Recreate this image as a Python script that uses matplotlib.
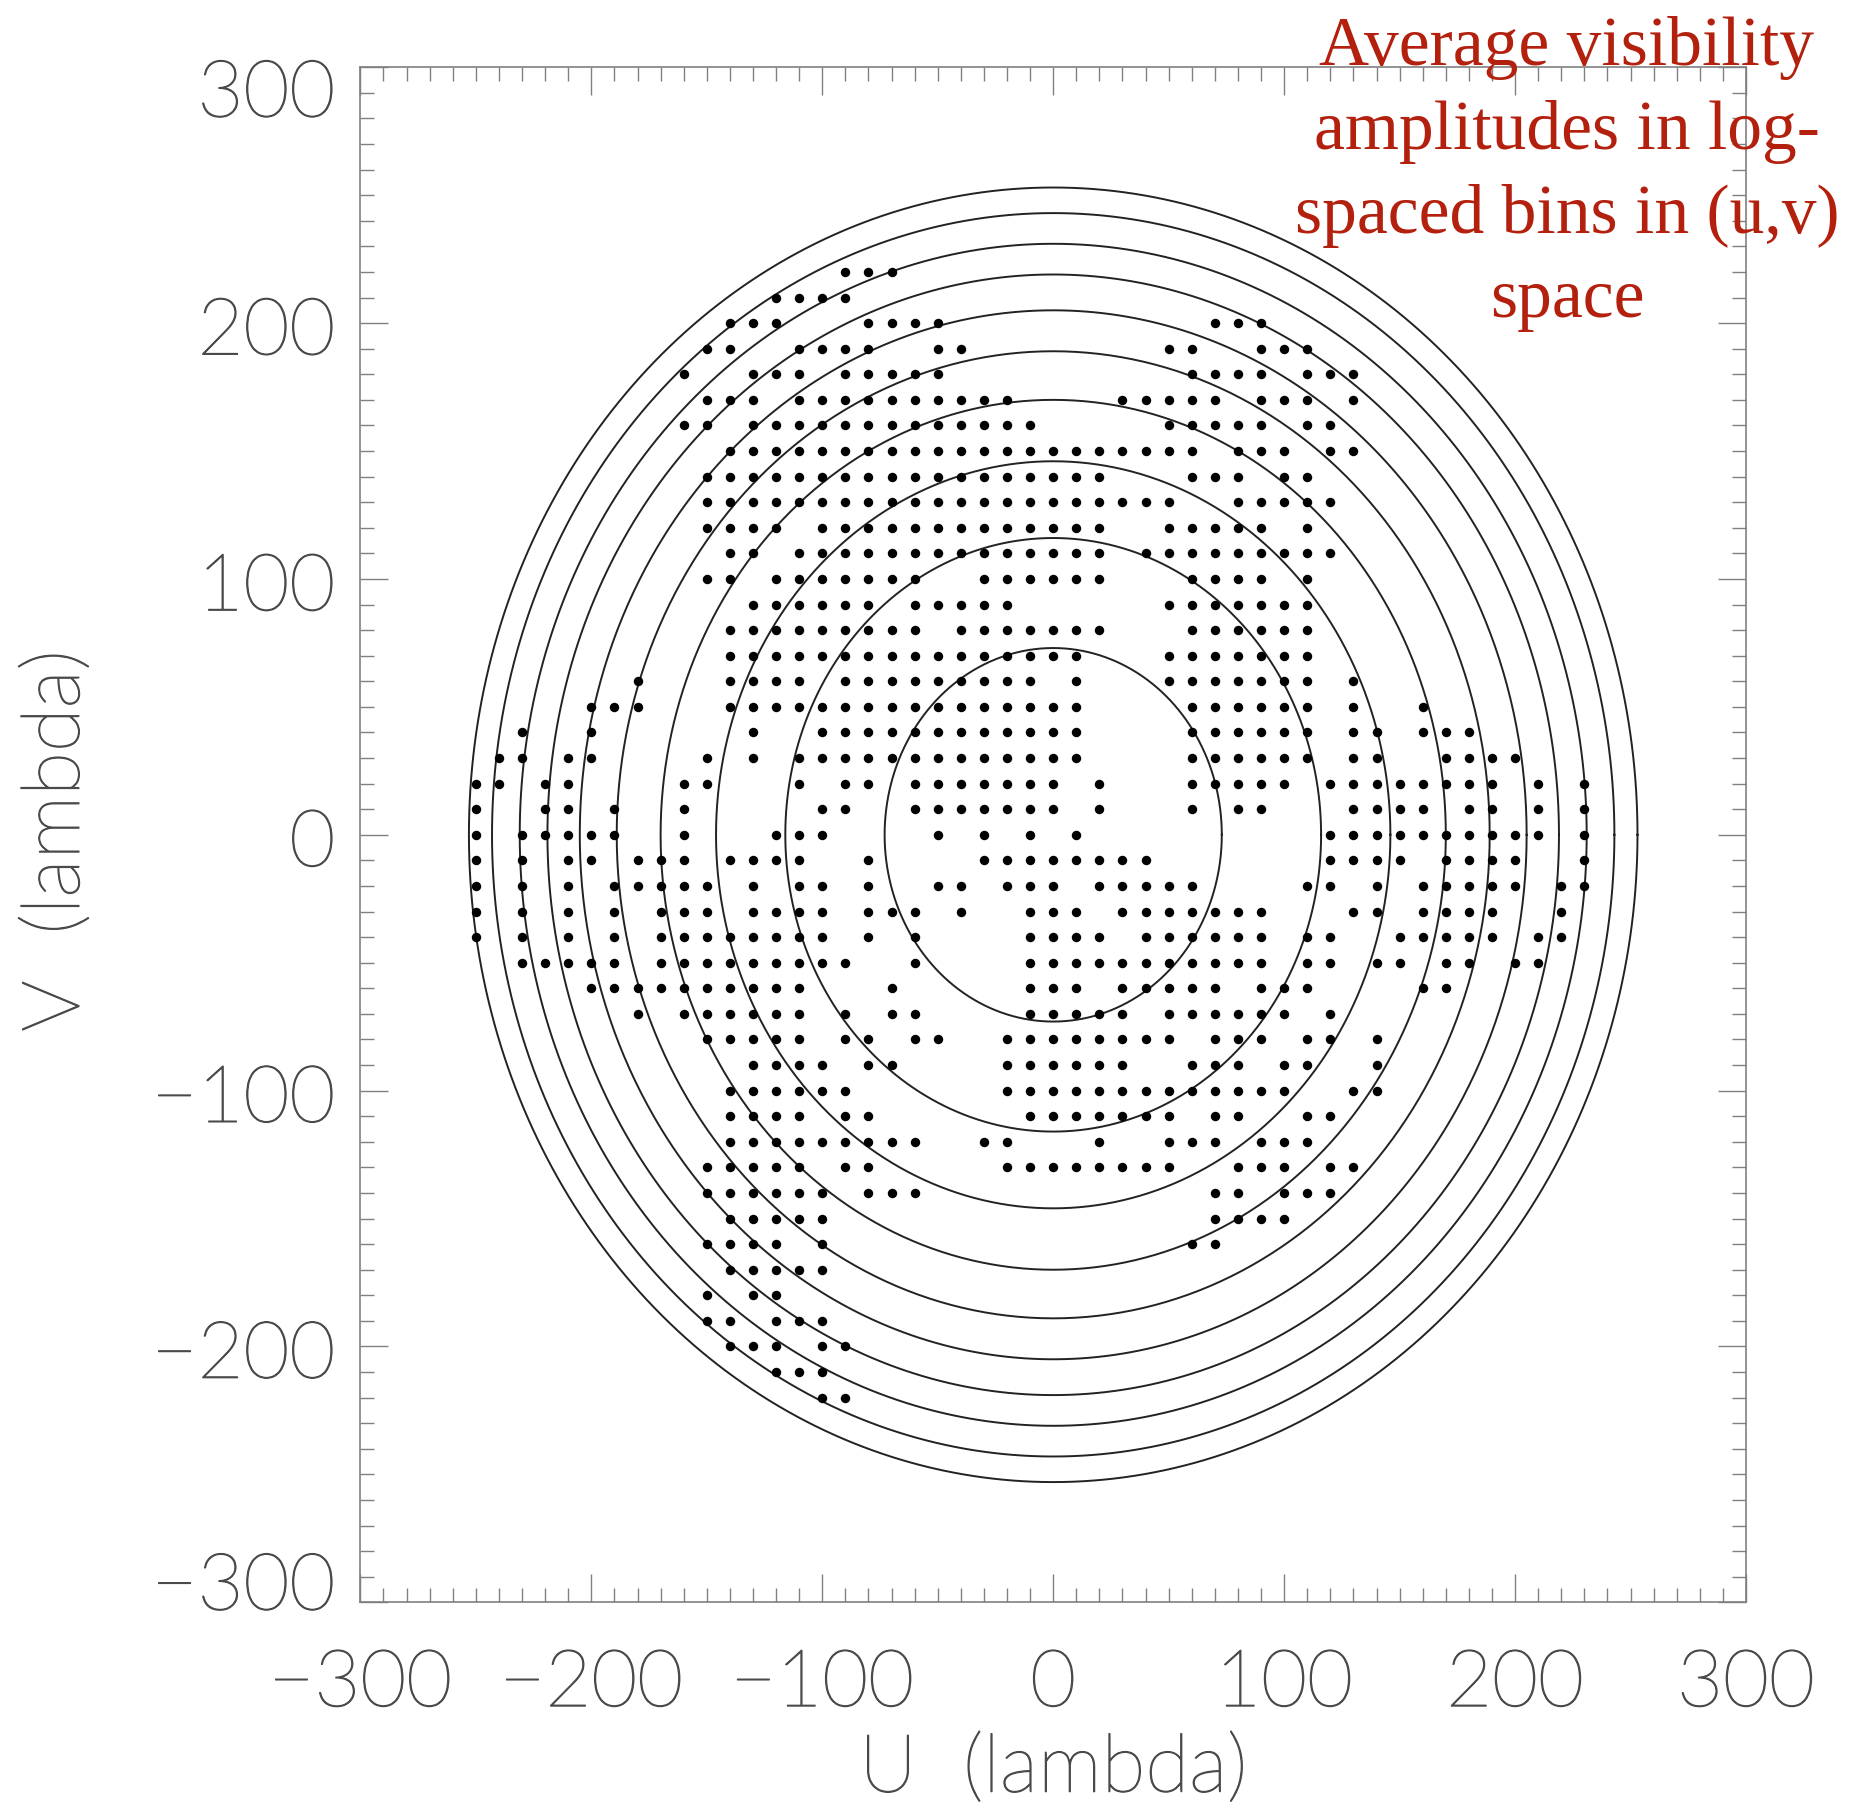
import numpy as np
import matplotlib
matplotlib.use('Agg')
import matplotlib.pyplot as plt
import matplotlib.patheffects as pe
from matplotlib.ticker import MultipleLocator
from matplotlib.transforms import ScaledTranslation

# radii of the log-spaced (u,v) bin boundaries (lambda)
ring_radii = [73, 116, 146, 170, 189, 205, 219, 231, 243, 253]

# grid rows of averaged visibility points: v value and the u values on that row
v_rows = [220, 210, 200, 190, 180, 170, 160, 150, 140, 130, 120, 110, 100, 90, 80,
          70, 60, 50, 40, 30, 20, 10, 0, -10, -20, -30, -40, -50, -60, -70,
          -80, -90, -100, -110, -120, -130, -140, -150, -160, -170, -180, -190, -200, -210, -220]

u_rows = [
    [-90, -80, -70],
    [-120, -110, -100, -90],
    [-140, -130, -120, -80, -70, -60, -50, 70, 80, 90],
    [-150, -140, -110, -100, -90, -80, -50, -40, 50, 60, 90, 100, 110],
    [-160, -130, -120, -110, -90, -80, -70, -60, -50, 60, 70, 80, 90, 110, 120, 130],
    [-150, -140, -130, -110, -100, -90, -80, -70, -60, -50, -40, -30, -20, 30, 40, 50, 60, 70,
     90, 100, 110, 130],
    [-160, -150, -130, -120, -110, -100, -90, -80, -70, -60, -50, -40, -30, -20, -10, 50, 60, 70,
     80, 90, 110, 120],
    [-140, -130, -120, -110, -100, -90, -80, -70, -60, -50, -40, -30, -20, -10, 0, 10, 20, 30, 40,
     50, 60, 80, 90, 100, 120, 130],
    [-150, -140, -130, -120, -110, -100, -90, -80, -70, -60, -50, -40, -30, -20, -10, 0, 10, 20,
     60, 70, 80, 100, 110],
    [-150, -140, -130, -120, -110, -100, -90, -80, -70, -60, -50, -40, -30, -20, -10, 0, 10, 20,
     30, 40, 50, 80, 90, 100, 110, 120],
    [-150, -140, -130, -120, -100, -90, -80, -70, -60, -50, -40, -30, -20, -10, 0, 10, 20,
     50, 60, 70, 80, 90, 110],
    [-140, -130, -110, -100, -90, -80, -70, -60, -50, -40, -30, -20, -10, 0, 10, 20,
     40, 50, 60, 70, 80, 90, 100, 110, 120],
    [-150, -140, -120, -110, -100, -90, -80, -70, -60, -30, -20, -10, 0, 10, 20, 60, 70,
     80, 90, 110],
    [-130, -120, -110, -100, -90, -80, -60, -50, -40, -30, -20, 50, 60, 70, 80, 90, 100, 110],
    [-140, -130, -120, -110, -100, -90, -80, -70, -60, -40, -30, -20, -10, 0, 10, 20, 60, 70,
     80, 90, 100, 110],
    [-140, -130, -120, -110, -100, -90, -80, -70, -60, -50, -40, -30, -20, -10, 0, 10,
     50, 60, 70, 80, 90, 100, 110],
    [-180, -140, -130, -120, -110, -90, -80, -70, -60, -50, -40, -30, -20, -10, 10,
     50, 60, 70, 80, 90, 100, 110, 130],
    [-200, -190, -180, -140, -130, -120, -110, -100, -90, -80, -70, -60, -50, -40, -30, -20, -10,
     0, 10, 60, 70, 80, 90, 100, 110, 130, 160],
    [-230, -200, -130, -100, -90, -80, -70, -60, -50, -40, -30, -20, -10, 0, 10, 60, 70,
     80, 90, 100, 110, 130, 140, 160, 170, 180],
    [-240, -230, -210, -200, -150, -130, -110, -100, -90, -80, -70, -60, -50, -40, -30, -20, -10,
     0, 10, 60, 70, 80, 90, 100, 110, 130, 140, 170, 180, 190, 200],
    [-250, -240, -220, -210, -160, -150, -110, -90, -80, -60, -50, -40, -30, -20, -10, 0, 20,
     60, 70, 80, 90, 100, 120, 130, 140, 150, 160, 170, 180, 190, 210, 230],
    [-250, -220, -210, -190, -160, -100, -90, -60, -50, -40, -30, -20, -10, 0, 20, 60,
     80, 90, 130, 140, 150, 160, 180, 190, 210, 230],
    [-250, -230, -220, -210, -200, -190, -160, -120, -110, -100, -50, -30, -10, 10,
     120, 130, 140, 150, 160, 170, 180, 190, 200, 210, 230],
    [-250, -230, -210, -200, -180, -170, -160, -140, -130, -120, -110, -80, -30, -20, -10, 0,
     10, 20, 30, 40, 120, 130, 140, 150, 170, 180, 190, 200, 230],
    [-250, -230, -210, -190, -180, -170, -160, -150, -130, -110, -100, -80, -50, -40, -20, -10,
     0, 20, 30, 40, 50, 60, 110, 120, 140, 160, 170, 180, 190, 200, 220, 230],
    [-250, -230, -210, -190, -170, -160, -150, -130, -120, -110, -100, -80, -70, -60, -40, -10,
     0, 10, 30, 40, 50, 60, 70, 80, 90, 130, 140, 160, 170, 180, 190, 220],
    [-250, -230, -210, -190, -170, -160, -150, -140, -130, -120, -110, -100, -80, -60, -10, 0,
     10, 20, 40, 50, 60, 70, 80, 90, 110, 120, 150, 160, 170, 180, 190, 210, 220],
    [-230, -220, -210, -200, -190, -170, -160, -150, -140, -130, -120, -110, -100, -90, -60, -10,
     0, 10, 20, 30, 40, 50, 60, 70, 80, 90, 110, 120, 140, 150, 170, 180, 200, 210],
    [-200, -190, -180, -170, -160, -150, -140, -130, -120, -110, -70, -10, 0, 10, 30, 40, 50,
     60, 70, 90, 100, 110, 160, 170],
    [-180, -160, -150, -140, -130, -120, -110, -90, -70, -60, -10, 0, 10, 20, 30, 50, 60, 70,
     80, 90, 100, 120],
    [-150, -140, -130, -120, -110, -90, -80, -60, -50, -20, -10, 0, 10, 20, 30, 40, 50, 70,
     80, 90, 110, 120, 140],
    [-130, -120, -110, -100, -80, -70, -20, -10, 0, 10, 20, 30, 60, 70, 80, 100, 110, 140],
    [-140, -130, -120, -110, -100, -90, -20, -10, 0, 10, 20, 30, 40, 50, 60, 70,
     80, 90, 100, 130, 140],
    [-140, -130, -120, -110, -90, -80, -10, 0, 10, 20, 30, 40, 50, 70, 80, 110, 120],
    [-140, -130, -120, -110, -100, -90, -80, -70, -60, -30, -20, 20, 50, 60, 70, 90, 100, 110],
    [-150, -140, -130, -120, -110, -90, -80, -20, -10, 0, 10, 20, 30, 40, 50,
     80, 90, 100, 120, 130],
    [-150, -140, -130, -120, -110, -100, -80, -70, -60, 70, 80, 100, 110, 120],
    [-140, -130, -120, -110, -100, 70, 80, 90, 100],
    [-150, -140, -130, -120, -100, 60, 70],
    [-140, -130, -120, -110, -100],
    [-150, -130, -120],
    [-150, -140, -120, -110, -100],
    [-140, -130, -120, -100, -90],
    [-120, -110, -100],
    [-100, -90],
]

u_pts = []
v_pts = []
for v, us in zip(v_rows, u_rows):
    for u in us:
        u_pts.append(u)
        v_pts.append(v)

label_font = dict(family=['Lato', 'DejaVu Sans'], weight='light')
label_grey = '#4a4a4a'
thicken = [pe.Stroke(linewidth=0.9, foreground=label_grey), pe.Normal()]

fig = plt.figure(figsize=(18.5, 18.13), dpi=100)
ax = fig.add_axes([0.1948, 0.1162, 0.749, 0.8467])

theta = np.linspace(0, 2 * np.pi, 721)
for r in ring_radii:
    ax.plot(r * np.cos(theta), r * np.sin(theta), color='#222222', lw=1.4)

ax.plot(u_pts, v_pts, 'o', color='black', ms=6.8, mew=0)

ax.set_xlim(-300, 300)
ax.set_ylim(-300, 300)
ax.xaxis.set_major_locator(MultipleLocator(100))
ax.yaxis.set_major_locator(MultipleLocator(100))
ax.xaxis.set_minor_locator(MultipleLocator(10))
ax.yaxis.set_minor_locator(MultipleLocator(10))

grey = '#808080'
for s in ax.spines.values():
    s.set_color(grey)
    s.set_linewidth(1.2)
ax.tick_params(which='both', direction='in', top=True, right=True, color=grey,
               width=1.0, labelcolor=label_grey, labelsize=57)
ax.tick_params(which='major', length=20)
ax.tick_params(which='minor', length=10)
ax.tick_params(axis='x', which='major', pad=34)
ax.tick_params(axis='y', which='major', pad=18)

# the end labels of the v axis sit inside the axis range, as in the original
fig.canvas.draw()
for t in ax.xaxis.get_major_ticks():
    t.label1.set_family(label_font['family'])
    t.label1.set_weight(label_font['weight'])
    t.label1.set_path_effects(thicken)
for t in ax.yaxis.get_major_ticks():
    t.label1.set_family(label_font['family'])
    t.label1.set_weight(label_font['weight'])
    t.label1.set_path_effects(thicken)
    if abs(t.get_loc() - 300) < 1e-6:
        dy = -21
    elif abs(t.get_loc() + 300) < 1e-6:
        dy = 21
    else:
        dy = -3
    t.label1.set_transform(t.label1.get_transform()
                           + ScaledTranslation(0, dy / 100, fig.dpi_scale_trans))

ax.set_xlabel('U  (lambda)', fontsize=58, color=label_grey, va='center',
              path_effects=thicken, **label_font)
ax.xaxis.set_label_coords(0.5, -0.109)
ax.set_ylabel('V  (lambda)', fontsize=58, color=label_grey, va='center',
              path_effects=thicken, **label_font)
ax.yaxis.set_label_coords(-0.219, 0.496)

fig.text(0.847, 0.991, 'Average visibility\namplitudes in log-\nspaced bins in (u,v)\nspace',
         ha='center', va='top', fontsize=50, color='#b3200e',
         family='Liberation Serif', linespacing=1.41)

fig.savefig('out.png', dpi=100)
